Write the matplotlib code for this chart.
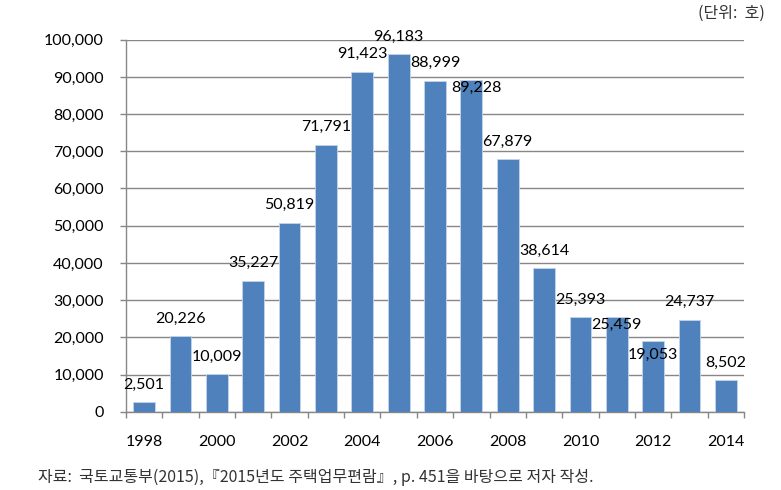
import matplotlib
matplotlib.use('Agg')
from matplotlib import pyplot as plt

years = list(range(1998, 2015))
units = [2501, 20226, 10009, 35227, 50819, 71791, 91423, 96183, 88999,
         89228, 67879, 38614, 25393, 25459, 19053, 24737, 8502]
tick_years = [1998, 2000, 2002, 2004, 2006, 2008, 2010, 2012, 2014]

# labels that were moved by hand in the original (x px, y px offset)
label_nudge = {2007: (5, -26), 2011: (0, -25), 2012: (0, -32)}

BAR = '#4F81BD'
GRID = '#878787'
NUM_FONT = ['Lato', 'DejaVu Sans']
KR_FONT = ['Noto Sans CJK KR', 'DejaVu Sans']

fig = plt.figure(figsize=(7.81, 4.90), dpi=100)
ax = fig.add_axes([126 / 781, 1 - 411.7 / 490, 618 / 781, 372 / 490])

xs = list(range(len(years)))
ax.bar(xs, units, width=0.6, color=BAR, edgecolor='#C5D5E8', linewidth=0.6, zorder=3)

for x, yr, v in zip(xs, years, units):
    dx, dy = label_nudge.get(yr, (0, 0))
    ax.annotate(f'{v:,}', (x, v), xytext=(dx * 0.72, 17.5 * 0.72 + dy * 0.72),
                textcoords='offset points', ha='center', va='center',
                fontsize=11.5, family=NUM_FONT, color='black', zorder=5)

ax.set_xlim(-0.5, len(years) - 0.5)
ax.set_ylim(0, 100000)
ax.set_yticks(range(0, 100001, 10000))
ax.set_yticklabels([f'{v:,}' for v in range(0, 100001, 10000)], family=NUM_FONT, fontsize=11.5)
ax.yaxis.grid(True, color=GRID, linewidth=1.0, zorder=0)
ax.set_axisbelow(True)

# category boundary ticks, labels on every second year
ax.set_xticks([x - 0.5 for x in range(len(years) + 1)])
ax.set_xticklabels([])
ax.set_xticks([years.index(y) for y in tick_years], minor=True)
ax.set_xticklabels([str(y) for y in tick_years], minor=True, family=NUM_FONT, fontsize=11.5)
ax.tick_params(axis='x', which='major', length=4, color=GRID, width=1.0)
ax.tick_params(axis='x', which='minor', length=0, pad=17)
ax.tick_params(axis='y', length=4, color=GRID, width=1.0, pad=12)

for s in ['top', 'right']:
    ax.spines[s].set_visible(False)
for s in ['left', 'bottom']:
    ax.spines[s].set_color(GRID)
    ax.spines[s].set_linewidth(1.0)

fig.text(765 / 781, 1 - 13 / 490, '(단위:  호)', ha='right', va='center',
         family=KR_FONT, fontsize=11.5, color='#333333')
fig.text(38 / 781, 1 - 477 / 490,
         '자료:  국토교통부(2015),『2015년도 주택업무편람』, p. 451을 바탕으로 저자 작성.',
         ha='left', va='center', family=KR_FONT, fontsize=11.5, color='#333333')

fig.savefig('out.png', dpi=100)
